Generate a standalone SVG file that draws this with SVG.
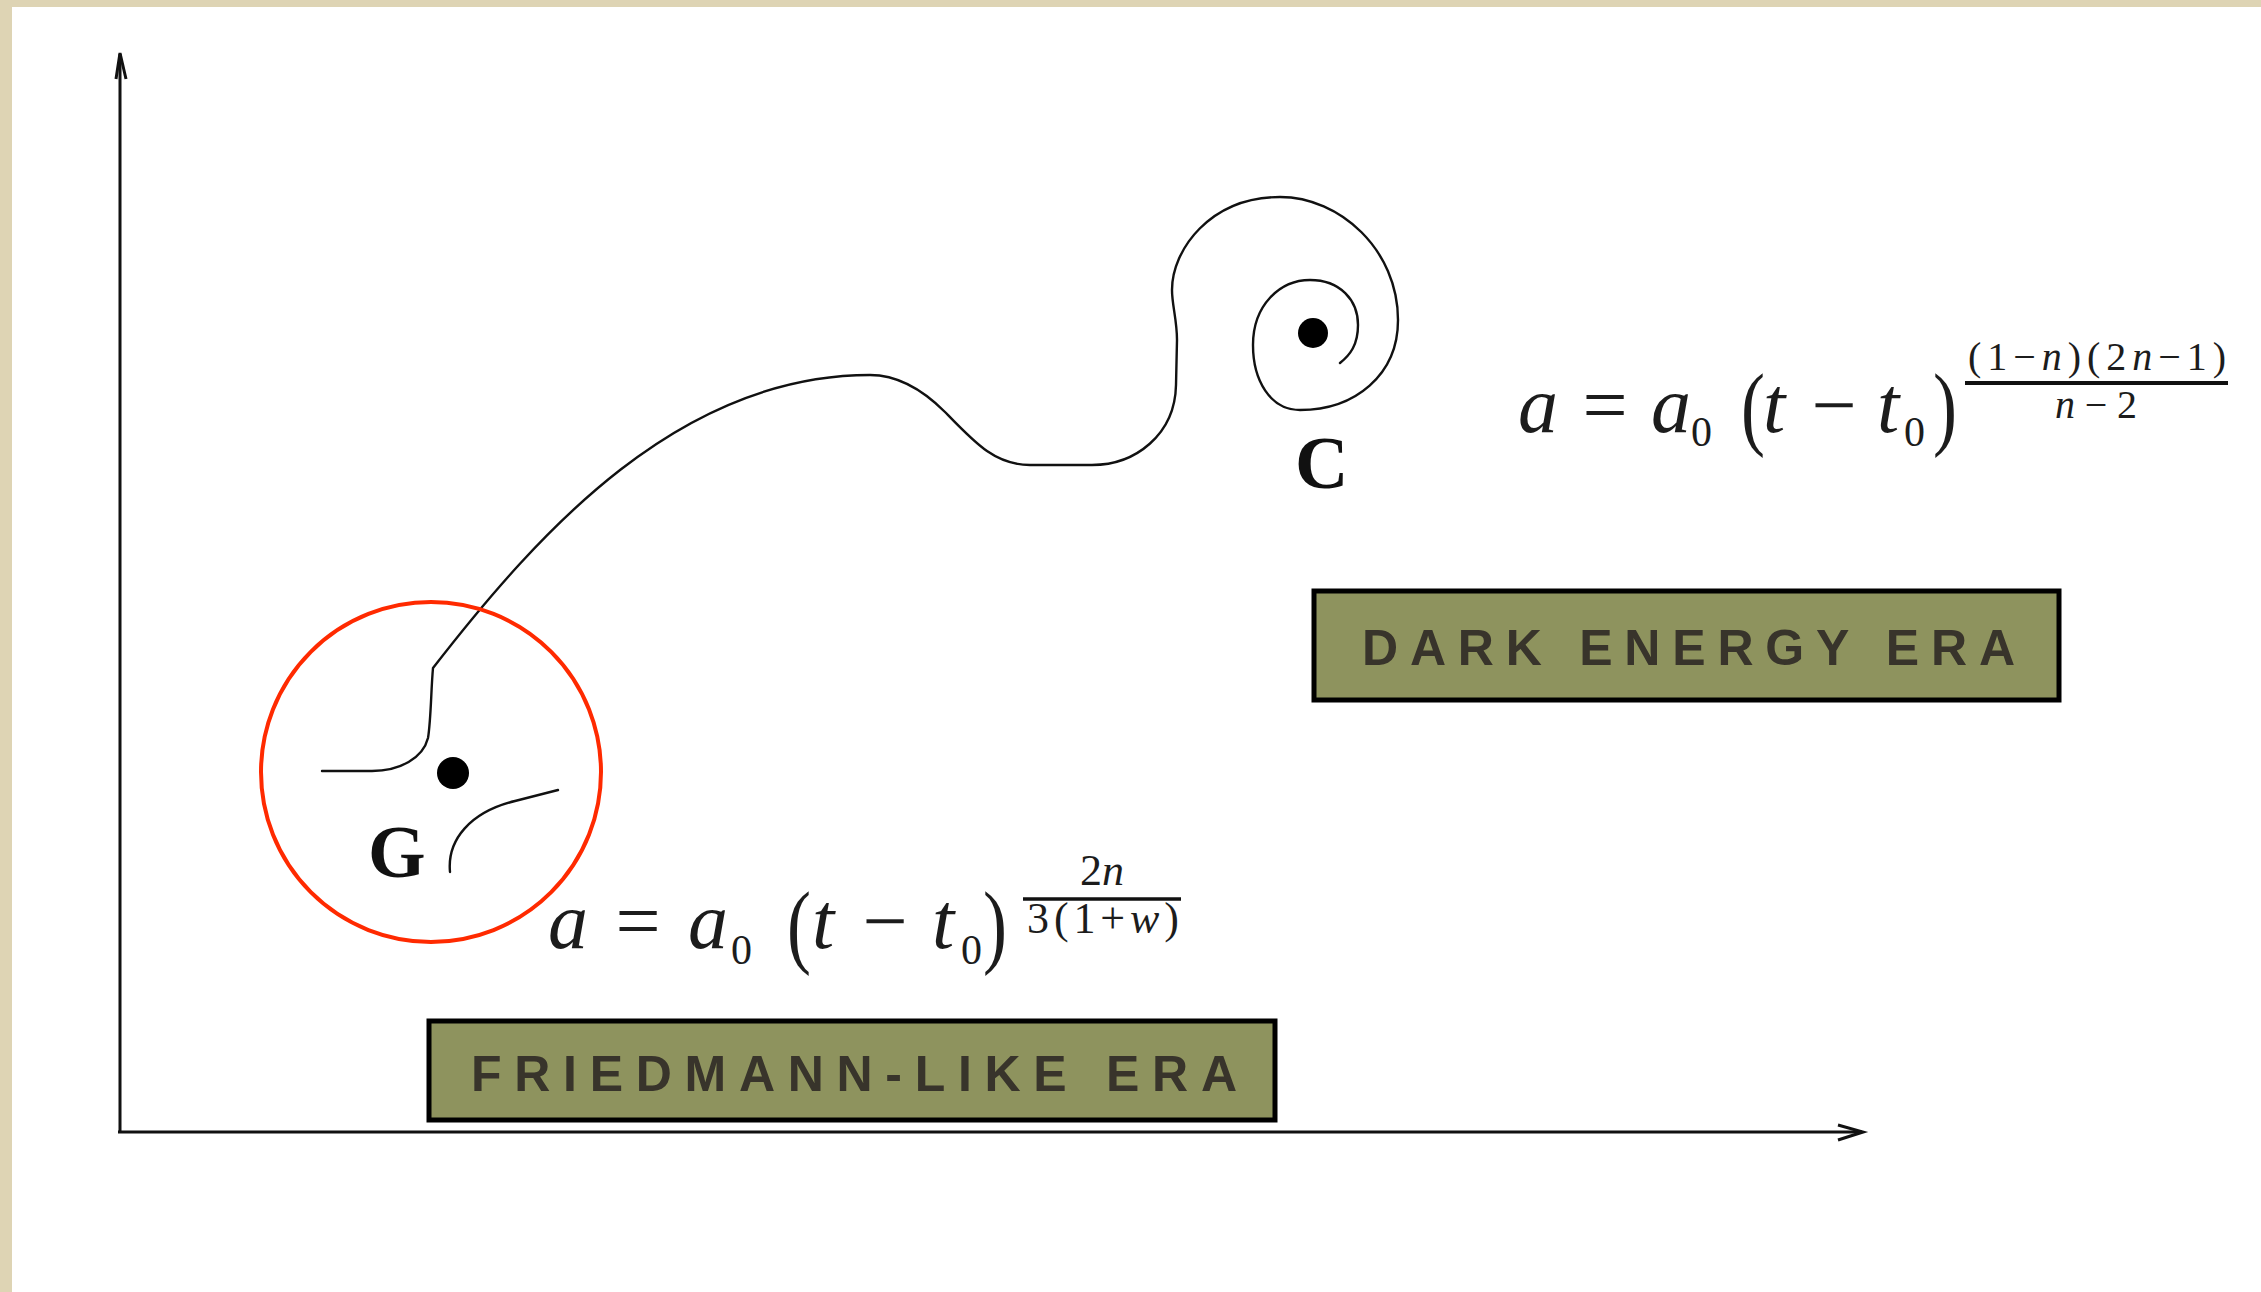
<svg xmlns="http://www.w3.org/2000/svg" width="2261" height="1292" viewBox="0 0 2261 1292">
<style>
.ln{fill:none;stroke:#111;stroke-width:2.4;stroke-linejoin:round;stroke-linecap:round}
.ax{fill:none;stroke:#111;stroke-width:3}
.mi{font-family:"Liberation Serif","DejaVu Serif",serif;font-style:italic;fill:#1c1c1c}
.mr{font-family:"Liberation Serif","DejaVu Serif",serif;fill:#1c1c1c}
.pr{font-family:"Liberation Serif","DejaVu Serif",serif;fill:#1c1c1c;font-size:72px}
.lbl{font-family:"Liberation Serif","DejaVu Serif",serif;font-weight:bold;font-size:74px;fill:#111}
.box{fill:#8e935e;stroke:#000;stroke-width:5}
.era{font-family:"Liberation Sans","DejaVu Sans",sans-serif;font-weight:bold;font-size:50px;fill:#38342b}
</style>
<rect x="0" y="0" width="2261" height="1292" fill="#ffffff"/>
<rect x="0" y="0" width="2261" height="7" fill="#ded4b4"/>
<rect x="0" y="0" width="12" height="1292" fill="#ded4b4"/>

<g id="axes">
<line class="ax" x1="120" y1="54" x2="120" y2="1133"/>
<line class="ax" x1="118" y1="1132" x2="1862" y2="1132"/>
<path class="ax" d="M116,79 L120,53 L126,79" stroke-width="2.5"/>
<path class="ax" d="M1838,1125 L1863,1132 L1838,1140" stroke-width="2.5"/>
</g>

<g id="connectors">
<path id="trajectory" class="ln" d="M322,771 L372,771 C400,771 423,758 428,738 C431,720 431,690 433,668 C540,530 680,375 870,375 C900,375 925,392 945,412 C975,443 995,465 1030,465 L1092,465 C1135,465 1175,435 1176,385 L1177,340 C1177,320 1172,305 1172,290 C1172,250 1210,197 1280,197 C1340,197 1398,250 1398,320 C1398,375 1355,410 1300,410 C1270,410 1253,380 1253,345 C1253,305 1280,280 1310,280 C1340,280 1358,300 1358,325 C1358,345 1350,355 1340,363"/>
<path id="trajectory2" class="ln" d="M450,872 C447,840 470,812 515,801 L558,790"/>
</g>

<g id="node-G">
<circle cx="431" cy="772" r="170" fill="none" stroke="#ff2a00" stroke-width="4"/>
<circle cx="453" cy="773" r="16" fill="#000"/>
<text class="lbl" x="368" y="877">G</text>
</g>

<g id="node-C">
<circle cx="1313" cy="333" r="15" fill="#000"/>
<text class="lbl" x="1295" y="488">C</text>
</g>

<g id="formula-friedmann">
<text class="mi" x="548" y="948" font-size="80">a</text>
<text class="mr" x="638" y="948" font-size="80" text-anchor="middle">=</text>
<text class="mi" x="688" y="948" font-size="80">a</text>
<text class="mr" x="731" y="964" font-size="42">0</text>
<text class="pr" transform="translate(787,956) scale(1,1.3)">(</text>
<text class="mi" x="812" y="948" font-size="80">t</text>
<text class="mr" x="885" y="948" font-size="80" text-anchor="middle">−</text>
<text class="mi" x="932" y="948" font-size="80">t</text>
<text class="mr" x="961" y="964" font-size="42">0</text>
<text class="pr" transform="translate(983,956) scale(1,1.3)">)</text>
<line x1="1023" y1="899" x2="1181" y2="899" stroke="#111" stroke-width="3.5"/>
<text class="mr" x="1102" y="885" font-size="44" text-anchor="middle">2<tspan class="mi">n</tspan></text>
<text class="mr" x="1027" y="933" font-size="44" textLength="152" lengthAdjust="spacing">3(1+<tspan class="mi">w</tspan>)</text>
</g>

<g id="formula-darkenergy">
<text class="mi" x="1518" y="432" font-size="80">a</text>
<text class="mr" x="1605" y="432" font-size="80" text-anchor="middle">=</text>
<text class="mi" x="1651" y="432" font-size="80">a</text>
<text class="mr" x="1691" y="446" font-size="42">0</text>
<text class="pr" transform="translate(1741,438) scale(1,1.3)">(</text>
<text class="mi" x="1763" y="432" font-size="80">t</text>
<text class="mr" x="1834" y="432" font-size="80" text-anchor="middle">−</text>
<text class="mi" x="1877" y="432" font-size="80">t</text>
<text class="mr" x="1904" y="446" font-size="42">0</text>
<text class="pr" transform="translate(1933,438) scale(1,1.3)">)</text>
<line x1="1965" y1="383" x2="2228" y2="383" stroke="#111" stroke-width="4"/>
<text class="mr" x="1968" y="370" font-size="40" textLength="258" lengthAdjust="spacing">(1−<tspan class="mi">n</tspan>)(2<tspan class="mi">n</tspan>−1)</text>
<text class="mr" x="2055" y="418" font-size="40" textLength="82" lengthAdjust="spacing"><tspan class="mi">n</tspan>−2</text>
</g>

<g id="node-dark-energy-era">
<rect class="box" x="1314" y="591" width="745" height="109"/>
<text class="era" x="1362" y="665" textLength="653" lengthAdjust="spacing">DARK ENERGY ERA</text>
</g>

<g id="node-friedmann-era">
<rect class="box" x="429" y="1021" width="846" height="99"/>
<text class="era" x="471" y="1091" textLength="766" lengthAdjust="spacing">FRIEDMANN-LIKE ERA</text>
</g>
</svg>
